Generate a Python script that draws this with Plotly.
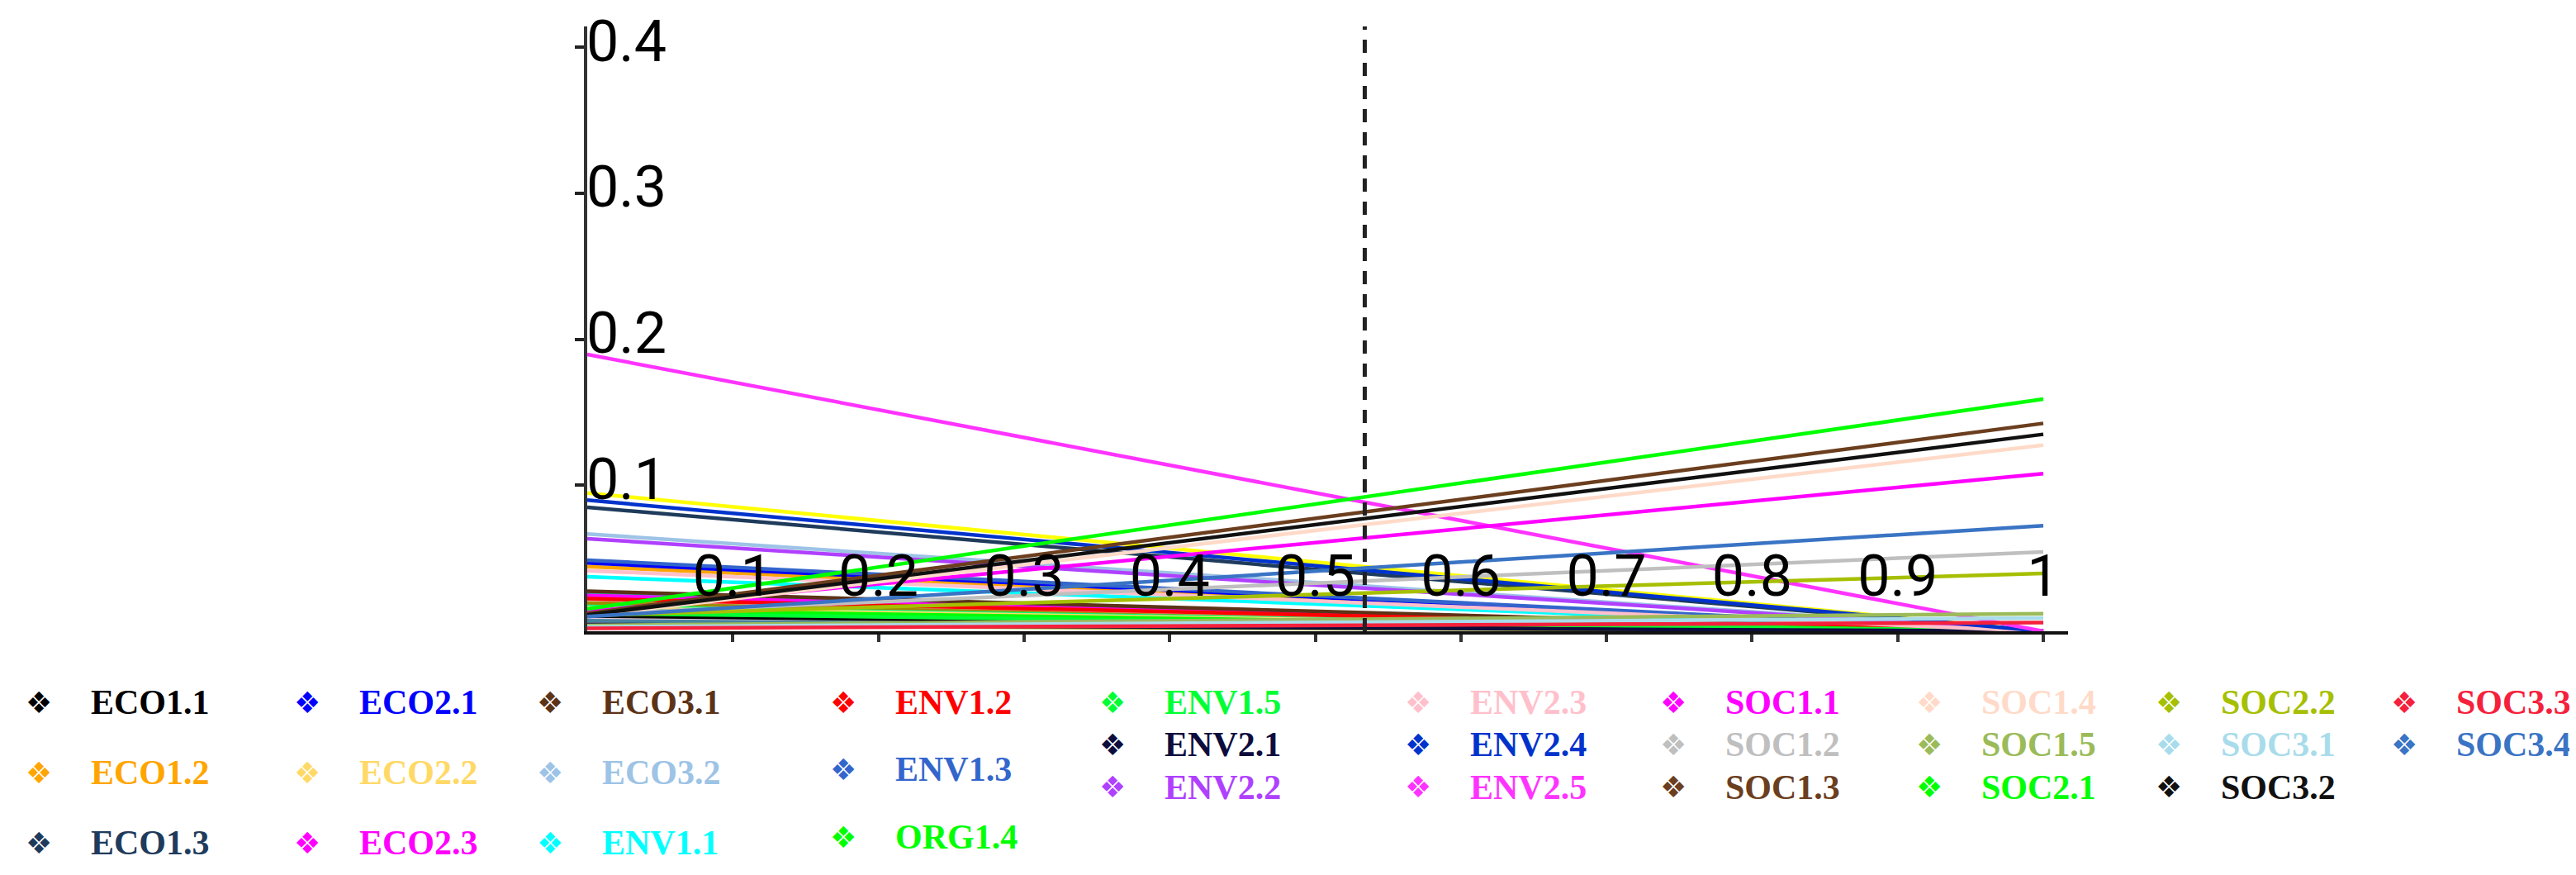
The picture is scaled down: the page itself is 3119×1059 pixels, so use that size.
import plotly.graph_objects as go

# sensitivity of the global priorities to the weight of the social criterion
labels = [
    "ECO1.1", "ECO1.2", "ECO1.3", "ECO2.1", "ECO2.2", "ECO2.3", "ECO3.1", "ECO3.2",
    "ENV1.1", "ENV1.2", "ENV1.3", "ORG1.4", "ENV1.5",
    "ENV2.1", "ENV2.2", "ENV2.3", "ENV2.4", "ENV2.5",
    "SOC1.1", "SOC1.2", "SOC1.3", "SOC1.4", "SOC1.5",
    "SOC2.1", "SOC2.2", "SOC3.1", "SOC3.2", "SOC3.3", "SOC3.4",
]
line_colors = [
    "#000000", "#FFA500", "#1F3B5C", "#0000FF", "#FFD966", "#FF00FF", "#5C3317", "#9DC3E6",
    "#00FFFF", "#FF0000", "#3366CC", "#00FF00", "#00FF33",
    "#0D0D3D", "#B040FF", "#FFC0CB", "#0033CC", "#FF33FF",
    "#FF00FF", "#BFBFBF", "#6B3E1E", "#FFDAC8", "#9BBB59",
    "#00FF00", "#A6BF00", "#A8DCEB", "#111111", "#F5213C", "#3A74C4",
]
# priority when the weight is 0 and when it is 1
at_zero = [
    0.0105, 0.0443, 0.0849, 0.0468, 0.0160, 0.0245, 0.0274, 0.0666,
    0.0373, 0.0223, 0.0487, 0.0147, 0.0123,
    0.0047, 0.0634, 0.0415, 0.0898, 0.1896,
    0.0135, 0.0116, 0.0122, 0.0105, 0.0040,
    0.0152, 0.0108, 0.0030, 0.0112, 0.0020, 0.0100,
]
at_one = [
    0, 0, 0, 0, 0, 0, 0, 0,
    0, 0, 0, 0, 0,
    0, 0, 0, 0, 0,
    0.1080, 0.0543, 0.1424, 0.1275, 0.0120,
    0.1590, 0.0396, 0.0090, 0.1349, 0.0060, 0.0723,
]

# lines drawn in the graph that have no entry in the visible legend
hidden_colors = ["#FFFF00", "#A08C00", "#00FF80", "#E8C8D8", "#4682A0", "#99A000",
                 "#20B2AA", "#E9A3A3", "#3A5F0B"]
hidden_at_zero = [0.0947, 0.0194, 0.0170, 0.0094, 0.0072, 0.0040, 0.0260, 0.0220, 0.0120]
hidden_at_one = [0, 0, 0, 0, 0, 0, 0, 0, 0]

weight_range = [0, 1]
current_weight = 0.534

x_ticks = [0.1, 0.2, 0.3, 0.4, 0.5, 0.6, 0.7, 0.8, 0.9, 1.0]
x_tick_text = ["0.1", "0.2", "0.3", "0.4", "0.5", "0.6", "0.7", "0.8", "0.9", "1"]
y_ticks = [0.1, 0.2, 0.3, 0.4]

legend_columns = [
    ["ECO1.1", "ECO1.2", "ECO1.3"],
    ["ECO2.1", "ECO2.2", "ECO2.3"],
    ["ECO3.1", "ECO3.2", "ENV1.1"],
    ["ENV1.2", "ENV1.3", "ORG1.4"],
    ["ENV1.5", "ENV2.1", "ENV2.2"],
    ["ENV2.3", "ENV2.4", "ENV2.5"],
    ["SOC1.1", "SOC1.2", "SOC1.3"],
    ["SOC1.4", "SOC1.5", "SOC2.1"],
    ["SOC2.2", "SOC3.1", "SOC3.2"],
    ["SOC3.3", "SOC3.4"],
]

# page geometry (pixels)
W, H = 3119, 1059
PL, PR, PT, PB = 703, 2496, 24, 756
X_ONE = 2466
Y_PER_UNIT = 1767
col_left = [103, 428, 722, 1077, 1403, 1773, 2082, 2392, 2682, 2967]
col_rows = [[842, 927, 1012]] * 3 + [[842, 923, 1005]] + [[842, 893, 945]] * 6


def px_x(px):
    return (px - PL) / (PR - PL)


def px_y(py):
    return (PB - py) / (PB - PT)


fig = go.Figure()

for c, y0, y1 in zip(hidden_colors, hidden_at_zero, hidden_at_one):
    fig.add_trace(go.Scatter(x=weight_range, y=[y0, y1], mode="lines",
                             line=dict(color=c, width=4.5), showlegend=False,
                             hoverinfo="skip"))

for name, c, y0, y1 in zip(labels, line_colors, at_zero, at_one):
    fig.add_trace(go.Scatter(x=weight_range, y=[y0, y1], mode="lines", name=name,
                             line=dict(color=c, width=4.5), showlegend=False))

fig.add_vline(x=current_weight, line=dict(color="#222222", width=5, dash="16px,12px"))

color_of = dict(zip(labels, line_colors))
for ci, col in enumerate(legend_columns):
    for ri, name in enumerate(col):
        yy = px_y(col_rows[ci][ri])
        fig.add_annotation(x=px_x(col_left[ci] - 64), y=yy, xref="paper", yref="paper",
                           text="\u2756", showarrow=False, xanchor="center", yanchor="middle",
                           font=dict(family="DejaVu Sans", size=36, color=color_of[name]))
        fig.add_annotation(x=px_x(col_left[ci] - 3), y=yy, xref="paper", yref="paper",
                           text="<b>" + name + "</b>", showarrow=False,
                           xanchor="left", yanchor="middle",
                           font=dict(family="Liberation Serif", size=42, color=color_of[name]))

fig.update_xaxes(
    range=[0, (PR - PL) / (X_ONE - PL)],
    tickvals=x_ticks, ticktext=x_tick_text,
    ticks="outside", ticklen=9, tickwidth=4, tickcolor="#333333",
    ticklabelposition="inside", ticklabelstandoff=40, ticklabeloverflow="allow",
    showline=True, linecolor="#111111", linewidth=4,
    showgrid=False, zeroline=False, automargin=False,
    tickfont=dict(family="Roboto", size=70, color="#000000"),
)
fig.update_yaxes(
    range=[0, (PB - PT) / Y_PER_UNIT],
    tickvals=y_ticks,
    ticks="outside", ticklen=11, tickwidth=4, tickcolor="#222222",
    ticklabelposition="inside", ticklabelstandoff=10, ticklabelshift=-8,
    ticklabeloverflow="allow",
    showline=True, linecolor="#333333", linewidth=4,
    showgrid=False, zeroline=False, automargin=False,
    tickfont=dict(family="Roboto", size=70, color="#000000"),
)
fig.update_layout(
    width=W, height=H, autosize=False,
    margin=dict(l=PL, r=W - PR, t=PT, b=H - PB, pad=0),
    paper_bgcolor="white", plot_bgcolor="white",
    showlegend=False,
)

fig.write_html("out.html")
